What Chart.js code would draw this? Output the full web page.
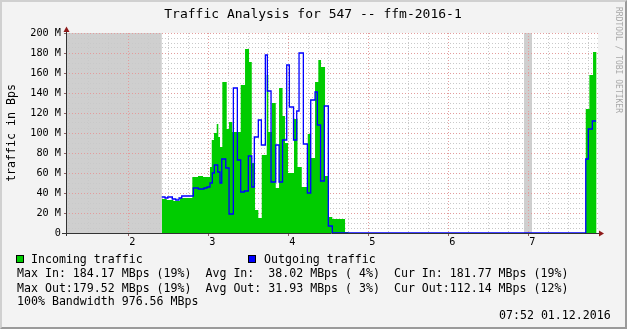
<!DOCTYPE html>
<html><head><meta charset="utf-8">
<script src="https://cdn.jsdelivr.net/npm/chart.js@4.4.1/dist/chart.umd.min.js"></script>
<style>
html,body{margin:0;padding:0;background:#f3f3f3;}
#wrap{position:relative;width:627px;height:329px;overflow:hidden;background:#f3f3f3;}
#frame{position:absolute;left:0;top:0;width:627px;height:329px;box-sizing:border-box;border-style:solid;border-width:2px;border-color:#d0d0d0 #9a9a9a #9a9a9a #d0d0d0;pointer-events:none;}
canvas{position:absolute;left:0;top:0;}
.t{position:absolute;font-family:"DejaVu Sans Mono",monospace;font-size:11.6px;white-space:pre;color:#000;line-height:14px;}
.box{position:absolute;width:6px;height:6px;border:1px solid #000;}
</style></head><body>
<div id="wrap">
<canvas id="c" width="627" height="329"></canvas>
<div class="box" style="left:16px;top:255px;background:#00cc00"></div>
<div class="t" style="left:31px;top:252px">Incoming traffic</div>
<div class="box" style="left:248px;top:255px;background:#0000ff"></div>
<div class="t" style="left:264px;top:252px">Outgoing traffic</div>
<div class="t" style="left:17px;top:266px">Max In: 184.17 MBps (19%)  Avg In:  38.02 MBps ( 4%)  Cur In: 181.77 MBps (19%)</div>
<div class="t" style="left:17px;top:281px">Max Out:179.52 MBps (19%)  Avg Out: 31.93 MBps ( 3%)  Cur Out:112.14 MBps (12%)</div>
<div class="t" style="left:17px;top:294px">100% Bandwidth 976.56 MBps</div>
<div class="t" style="left:499px;top:308px">07:52 01.12.2016</div>
<div id="frame"></div>
</div>
<script>
// ---- data (x in axis units, y in MBps) ----
const XMIN = 1.221, XMAX = 7.871;
const xTickValues = [2, 3, 4, 5, 6, 7];
const xTickLabels = ['2', '3', '4', '5', '6', '7'];
const yTickValues = [0, 20, 40, 60, 80, 100, 120, 140, 160, 180, 200];
const yTickLabels = ['0', '20 M', '40 M', '60 M', '80 M', '100 M', '120 M', '140 M', '160 M', '180 M', '200 M'];

const inTimes = [2.418, 2.480, 2.563, 2.646, 2.800, 2.871, 2.934, 3.021, 3.043, 3.071, 3.105, 3.125, 3.146, 3.175, 3.230, 3.259, 3.300, 3.405, 3.459, 3.509, 3.543, 3.584, 3.625, 3.668, 3.730, 3.750, 3.793, 3.843, 3.884, 3.928, 3.959, 3.996, 4.071, 4.115, 4.168, 4.243, 4.284, 4.334, 4.375, 4.409, 4.459, 4.500, 4.550, 4.709, 4.750, 7.718, 7.763, 7.809, 7.853];
const inValues = [34, 33, 32, 35, 56, 57, 56, 66, 93, 100, 109, 96, 86, 151, 104, 111, 101, 148, 184, 171, 70, 23, 15, 78, 158, 101, 130, 45, 145, 117, 90, 60, 114, 66, 46, 99, 75, 151, 173, 166, 57, 16, 14, 1, 0, 124, 158, 181, 181];

const outTimes = [2.418, 2.459, 2.493, 2.550, 2.593, 2.634, 2.668, 2.813, 2.875, 2.946, 2.984, 3.021, 3.050, 3.075, 3.118, 3.146, 3.168, 3.218, 3.259, 3.313, 3.363, 3.405, 3.450, 3.500, 3.543, 3.575, 3.625, 3.663, 3.713, 3.738, 3.784, 3.843, 3.884, 3.928, 3.980, 4.013, 4.065, 4.105, 4.134, 4.188, 4.238, 4.280, 4.334, 4.363, 4.403, 4.450, 4.500, 4.550, 7.718, 7.750, 7.800, 7.846];
const outValues = [36, 35, 36, 34, 33, 35, 37, 45, 44, 45, 46, 50, 60, 68, 61, 50, 74, 65, 19, 145, 73, 41, 42, 77, 46, 96, 113, 88, 178, 142, 51, 88, 51, 93, 168, 126, 93, 122, 180, 89, 40, 133, 141, 108, 52, 127, 7, 0, 74, 104, 112, 112];

// periods with unknown data (grey shading)
const unknownStart = [1.221, 6.946];
const unknownEnd = [2.418, 7.046];

const xMinorValues = [];
for (let v = 1.25; v < XMAX; v += 0.25) if (Math.abs(v - Math.round(v)) > 0.01) xMinorValues.push(v);
const yMinorValues = [];
for (let v = 5; v < 200; v += 5) if (v % 20 !== 0) yMinorValues.push(v);

const FONT = '"DejaVu Sans Mono"';
const MAJOR = '#e39c9c', MINOR = '#c9c9c9';

const rrdPlugin = {
  id: 'rrd',
  beforeDraw(chart) {
    const {ctx, chartArea: a, scales: {x}} = chart;
    ctx.save();
    ctx.fillStyle = '#ffffff';
    ctx.fillRect(a.left, a.top, a.right - a.left, a.bottom - a.top);
    ctx.fillStyle = '#cfcfcf';
    unknownStart.forEach((s, i) => {
      const x0 = Math.max(a.left, x.getPixelForValue(s));
      const x1 = Math.min(a.right, x.getPixelForValue(unknownEnd[i]));
      ctx.fillRect(x0, a.top, x1 - x0, a.bottom - a.top);
    });
    ctx.restore();
  },
  beforeDatasetsDraw(chart) {
    const {ctx, chartArea: a} = chart;
    ctx.save();
    ctx.strokeStyle = '#333333';
    ctx.lineWidth = 1;
    ctx.beginPath();
    ctx.moveTo(a.left - 4, a.bottom + 0.5);
    ctx.lineTo(a.right + 3, a.bottom + 0.5);
    ctx.moveTo(a.left + 0.5, a.bottom + 3);
    ctx.lineTo(a.left + 0.5, a.top - 3);
    ctx.stroke();
    ctx.fillStyle = '#8e1a1a';
    ctx.beginPath();
    ctx.moveTo(a.right + 1, a.bottom - 2.5);
    ctx.lineTo(a.right + 6, a.bottom + 0.5);
    ctx.lineTo(a.right + 1, a.bottom + 3.5);
    ctx.closePath();
    ctx.fill();
    ctx.beginPath();
    ctx.moveTo(a.left - 2.5, a.top - 1);
    ctx.lineTo(a.left + 0.5, a.top - 6.5);
    ctx.lineTo(a.left + 3.5, a.top - 1);
    ctx.closePath();
    ctx.fill();
    ctx.restore();
  },
  afterDraw(chart) {
    const {ctx} = chart;
    ctx.save();
    ctx.fillStyle = '#000';
    ctx.font = '13px ' + FONT;
    ctx.textAlign = 'center';
    ctx.textBaseline = 'alphabetic';
    ctx.fillText('Traffic Analysis for 547 -- ffm-2016-1', 313, 18);
    ctx.save();
    ctx.translate(12, 133);
    ctx.rotate(-Math.PI / 2);
    ctx.font = '11.6px ' + FONT;
    ctx.textBaseline = 'middle';
    ctx.fillText('traffic in Bps', 0, 0);
    ctx.restore();
    ctx.save();
    ctx.translate(618.5, 7);
    ctx.rotate(Math.PI / 2);
    ctx.font = '8px ' + FONT;
    ctx.fillStyle = '#a8a8a8';
    ctx.textAlign = 'left';
    ctx.textBaseline = 'middle';
    ctx.fillText('RRDTOOL / TOBI OETIKER', 0, 0);
    ctx.restore();
    ctx.restore();
  }
};

new Chart(document.getElementById('c'), {
  type: 'line',
  data: {
    datasets: [
      {
        label: 'Outgoing traffic',
        data: outTimes.map((t, i) => ({x: t, y: outValues[i]})),
        stepped: 'before',
        borderColor: '#0000ff',
        borderWidth: 1.3,
        pointRadius: 0,
        fill: false,
        order: 0
      },
      {
        label: 'Incoming traffic',
        data: inTimes.map((t, i) => ({x: t, y: inValues[i]})),
        stepped: 'before',
        borderColor: '#00cc00',
        borderWidth: 0,
        backgroundColor: '#00cc00',
        pointRadius: 0,
        fill: 'origin',
        order: 1
      }
    ]
  },
  options: {
    responsive: false,
    animation: false,
    events: [],
    layout: {padding: {left: 0, top: 33, right: 29, bottom: 76}},
    plugins: {legend: {display: false}, title: {display: false}, tooltip: {enabled: false}},
    scales: {
      x: {
        type: 'linear', position: 'bottom', min: XMIN, max: XMAX,
        afterBuildTicks: s => { s.ticks = xTickValues.map(v => ({value: v})); },
        afterFit: s => { s.height = 20; },
        ticks: {
          autoSkip: false, maxRotation: 0, padding: 0, labelOffset: 4,
          color: '#000', font: {family: FONT, size: 10.2},
          callback: (v, i) => xTickLabels[i]
        },
        grid: {color: MAJOR, lineWidth: 1, drawTicks: true, tickLength: 3, tickColor: '#8c6060'},
        border: {display: false, dash: [1, 2]}
      },
      xMinor: {
        type: 'linear', position: 'bottom', min: XMIN, max: XMAX, z: -1,
        afterBuildTicks: s => { s.ticks = xMinorValues.map(v => ({value: v})); },
        afterFit: s => { s.height = 0; },
        ticks: {display: false},
        grid: {color: MINOR, lineWidth: 1, drawTicks: false},
        border: {display: false, dash: [1, 2]}
      },
      y: {
        type: 'linear', position: 'left', min: 0, max: 200,
        afterBuildTicks: s => { s.ticks = yTickValues.map(v => ({value: v})); },
        afterFit: s => { s.width = 66; },
        ticks: {
          autoSkip: false, padding: 3,
          color: '#000', font: {family: FONT, size: 10.2},
          callback: (v, i) => yTickLabels[i]
        },
        grid: {color: MAJOR, lineWidth: 1, drawTicks: true, tickLength: 2, tickColor: '#8c6060'},
        border: {display: false, dash: [1, 2]}
      },
      yMinor: {
        type: 'linear', position: 'left', min: 0, max: 200, z: -1,
        afterBuildTicks: s => { s.ticks = yMinorValues.map(v => ({value: v})); },
        afterFit: s => { s.width = 0; },
        ticks: {display: false},
        grid: {color: MINOR, lineWidth: 1, drawTicks: false},
        border: {display: false, dash: [1, 2]}
      }
    }
  },
  plugins: [rrdPlugin]
});
</script>
</body></html>
